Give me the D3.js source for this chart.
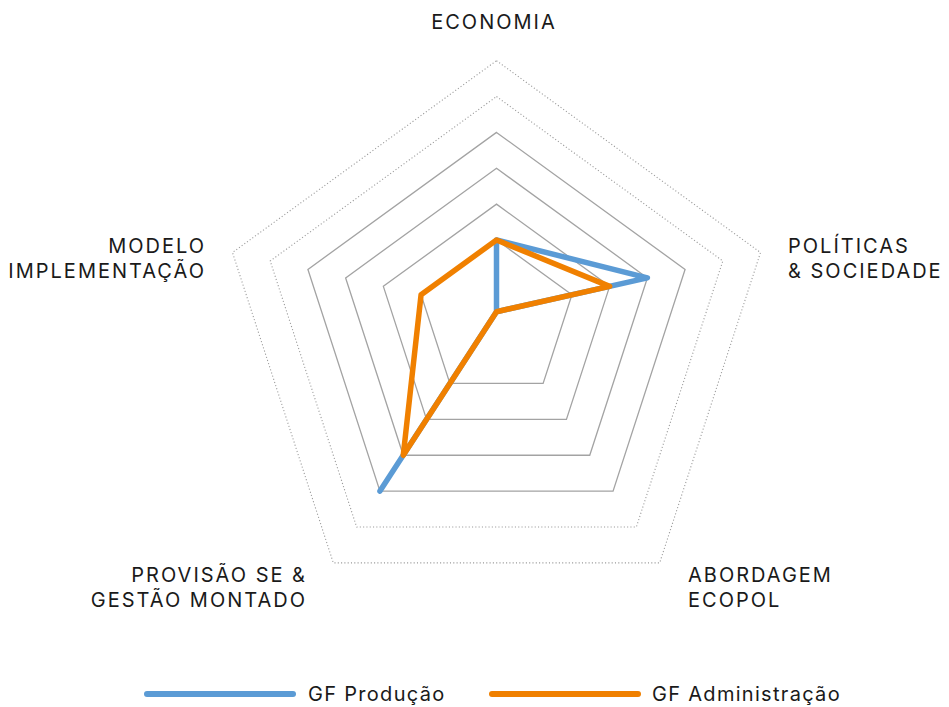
<!DOCTYPE html>
<html>
<head>
<meta charset="utf-8">
<script src="https://cdn.jsdelivr.net/npm/d3@7"></script>
<style>
  html, body { margin: 0; padding: 0; background: #fff; }
  svg { display: block; }
  text { font-family: Inter, "Noto Sans", sans-serif; fill: #1a1a1a; }
</style>
</head>
<body>
<svg id="chart" width="949" height="707"></svg>
<script>
// Five dimensions, clockwise from the top
const axes = [
  ["ECONOMIA"],
  ["POLÍTICAS", "& SOCIEDADE"],
  ["ABORDAGEM", "ECOPOL"],
  ["PROVISÃO SE &", "GESTÃO MONTADO"],
  ["MODELO", "IMPLEMENTAÇÃO"]
];
const seriesNames = ["GF Produção", "GF Administração"];
const producao = [2, 4, 0, 5, 0];
const administracao = [2, 3, 0, 4, 2];
const solidLevels = [2, 3, 4, 5];
const dottedLevels = [6, 7];

const colors = ["#5b9bd5", "#f08000"];

const svg = d3.select("#chart");
const cx = 496.5, cy = 311.7;

// radial distance per unit, plus a small downward drift of each ring
const r = d3.scaleLinear().domain([0, 7]).range([0, 277.6]);
const drift = d3.scaleLinear().domain([0, 7]).range([0, 26.6]);
const angle = d3.scaleLinear().domain([0, axes.length]).range([0, 2 * Math.PI]);

function pt(v, i) {
  const a = angle(i);
  return [cx + r(v) * Math.sin(a), cy + drift(v) - r(v) * Math.cos(a)];
}

const ringLine = d3.line().curve(d3.curveLinearClosed);
function ring(level) {
  return ringLine(axes.map((_, i) => pt(level, i)));
}

const grid = svg.append("g");
grid.selectAll("path.solid").data(solidLevels).join("path")
  .attr("class", "solid")
  .attr("d", ring)
  .attr("fill", "none")
  .attr("stroke", "#a3a3a3")
  .attr("stroke-width", 1.3);
grid.selectAll("path.dotted").data(dottedLevels).join("path")
  .attr("class", "dotted")
  .attr("d", ring)
  .attr("fill", "none")
  .attr("stroke", "#9a9a9a")
  .attr("stroke-width", 1.1)
  .attr("stroke-dasharray", "1.1 2.2");

// series polygons
const series = [producao, administracao];
svg.append("g").selectAll("path").data(series).join("path")
  .attr("d", vals => ringLine(vals.map((v, i) => pt(v, i))))
  .attr("fill", "none")
  .attr("stroke", (d, i) => colors[i])
  .attr("stroke-width", 5.5)
  .attr("stroke-linejoin", "round")
  .attr("stroke-linecap", "round");

// axis labels
const labelFont = 20, labelSpacing = 2, lineGap = 25;
const labelSpec = [
  { x: 494, y: 29, anchor: "middle" },
  { x: 788, y: 253, anchor: "start" },
  { x: 688, y: 582, anchor: "start" },
  { x: 307, y: 582, anchor: "end" },
  { x: 206, y: 253, anchor: "end" }
];
const labels = svg.append("g");
axes.forEach((lines, i) => {
  const t = labels.append("text")
    .attr("x", labelSpec[i].x)
    .attr("y", labelSpec[i].y)
    .attr("text-anchor", labelSpec[i].anchor)
    .attr("font-size", labelFont)
    .attr("letter-spacing", labelSpacing);
  lines.forEach((s, j) => {
    t.append("tspan")
      .attr("x", labelSpec[i].x)
      .attr("dy", j === 0 ? 0 : lineGap)
      .text(s);
  });
});

// legend
const legendX = [147, 492];
const legendTextX = [308, 652];
const legend = svg.append("g");
seriesNames.forEach((name, i) => {
  legend.append("line")
    .attr("x1", legendX[i]).attr("x2", legendX[i] + 146)
    .attr("y1", 694).attr("y2", 694)
    .attr("stroke", colors[i])
    .attr("stroke-width", 6)
    .attr("stroke-linecap", "round");
  legend.append("text")
    .attr("x", legendTextX[i])
    .attr("y", 701)
    .attr("font-size", 20)
    .attr("letter-spacing", 1.3)
    .text(name);
});
</script>
</body>
</html>
